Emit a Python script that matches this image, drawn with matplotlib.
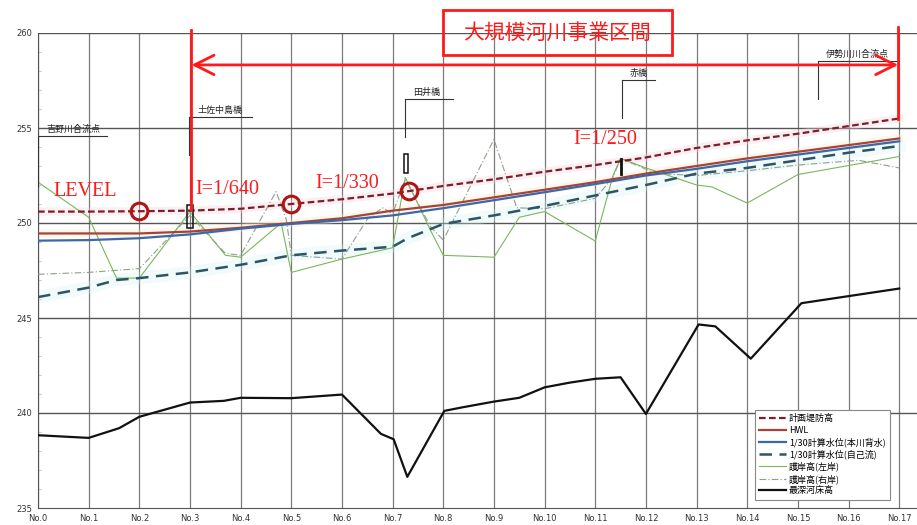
import matplotlib
matplotlib.use("Agg")
import matplotlib.pyplot as plt
import numpy as np
from matplotlib.patches import Rectangle

plt.rcParams["font.family"] = ["Noto Sans CJK JP", "DejaVu Sans"]

# station labels
stations = ["No.0", "No.1", "No.2", "No.3", "No.4", "No.5", "No.6", "No.7", "No.8",
            "No.9", "No.10", "No.11", "No.12", "No.13", "No.14", "No.15", "No.16", "No.17"]
station_x = list(range(len(stations)))

# 計画堤防高
dike = [250.6, 250.6, 250.62, 250.65, 250.75, 251.0, 251.25, 251.55, 251.95,
        252.3, 252.7, 253.05, 253.45, 253.95, 254.35, 254.7, 255.1, 255.5]
# HWL
hwl = [249.45, 249.45, 249.45, 249.55, 249.75, 250.0, 250.25, 250.65, 250.95,
       251.35, 251.75, 252.15, 252.6, 253.0, 253.4, 253.75, 254.1, 254.45]
# 1/30計算水位(本川背水)
wl_back = [249.07, 249.1, 249.2, 249.4, 249.7, 249.95, 250.15, 250.4, 250.78,
           251.2, 251.62, 252.05, 252.5, 252.85, 253.25, 253.6, 253.95, 254.3]
# 1/30計算水位(自己流)
wl_self_x = [0, 1, 1.55, 2, 3, 4, 5, 6, 7, 7.3, 8, 9, 10, 11, 12, 13, 14, 15, 16, 17]
wl_self = [246.1, 246.6, 247.0, 247.1, 247.4, 247.8, 248.3, 248.55, 248.75, 249.2,
           249.95, 250.4, 250.9, 251.45, 252.0, 252.6, 252.9, 253.3, 253.7, 254.05]
# 護岸高(左岸)
bank_l_x = [0, 1, 1.55, 2, 3, 3.7, 4, 4.8, 5, 6, 7, 7.25, 7.75, 8, 9, 9.5, 10,
            11, 11.35, 11.5, 12, 13, 13.3, 14, 15, 17]
bank_l = [252.15, 250.3, 247.1, 247.1, 250.6, 248.3, 248.2, 250.0, 247.4, 248.1,
          248.7, 252.4, 249.6, 248.3, 248.2, 250.3, 250.6, 249.05, 252.5, 253.4,
          252.9, 252.0, 251.9, 251.05, 252.55, 253.5]
# 護岸高(右岸)
bank_r_x = [0, 1, 2, 3, 3.7, 4, 4.7, 4.9, 5, 6, 6.5, 6.8, 7, 7.25, 7.75, 8, 9,
            9.45, 10, 11, 11.35, 11.5, 12.2, 13, 14, 15, 16.2, 17]
bank_r = [247.3, 247.4, 247.6, 250.4, 248.4, 248.3, 251.65, 250.2, 248.3, 248.1,
          250.2, 250.8, 250.5, 252.3, 249.8, 249.1, 254.4, 250.8, 250.75, 251.3,
          252.4, 253.4, 252.6, 252.5, 252.75, 253.05, 253.3, 252.9]
# 最深河床高
bed_x = [0, 1, 1.6, 2, 3, 3.67, 4, 5, 6, 6.77, 7.02, 7.29, 8.02, 8.36, 9, 9.5,
         10, 10.5, 11, 11.5, 12, 13.04, 13.37, 14.07, 15.07, 17]
bed = [238.83, 238.69, 239.2, 239.8, 240.55, 240.64, 240.8, 240.78, 240.97, 238.9,
       238.62, 236.64, 240.11, 240.29, 240.6, 240.8, 241.35, 241.6, 241.8, 241.88,
       239.95, 244.66, 244.56, 242.86, 245.78, 246.55]

# slope marks on the dike line
circle_x = [2, 5, 7.32]
slope_labels = ["LEVEL", "I=1/640", "I=1/330", "I=1/250"]

RED = "#ff1a1a"
DARKRED = "#b01515"

fig = plt.figure(figsize=(9.17, 5.25), dpi=100)
ax = fig.add_axes([38 / 917, 17 / 525, 879 / 917, 475 / 525])
ax.set_xlim(0, 879 / 50.66)
ax.set_ylim(235, 260)

# grid
for x in station_x:
    ax.axvline(x, color="#7a7a7a", lw=0.9, zorder=1)
for y in range(240, 261, 5):
    ax.axhline(y, color="#555555", lw=1.0, zorder=1)
for s in ["top", "right"]:
    ax.spines[s].set_visible(False)
ax.spines["left"].set_color("#555555")
ax.spines["bottom"].set_color("#555555")

ax.set_xticks(station_x)
ax.set_xticklabels(stations, fontsize=6, family="DejaVu Sans")
ax.set_yticks(range(235, 261, 5))
ax.set_yticklabels([str(v) for v in range(235, 261, 5)], fontsize=6, family="DejaVu Sans")
ax.tick_params(length=0, pad=4, colors="#333333")
ax.set_yticks(range(235, 261), minor=True)
ax.tick_params(which="minor", length=2, color="#bbbbbb", direction="in")

# faint halos
ax.plot(station_x, dike, color="#f7d3da", lw=6, alpha=0.35, zorder=2)
ax.plot(station_x, hwl, color="#fbe6c4", lw=6, alpha=0.35, zorder=2)
ax.plot(wl_self_x, wl_self, color="#d2f3f3", lw=9, alpha=0.3, zorder=2)

# series
ax.plot(station_x, dike, color="#7a1f2b", lw=1.6, ls=(0, (3, 1.5)), zorder=5, label="計画堤防高")
ax.plot(station_x, hwl, color="#a3443c", lw=1.6, zorder=5, label="HWL")
ax.plot(station_x, wl_back, color="#3a68a8", lw=1.6, zorder=5, label="1/30計算水位(本川背水)")
ax.plot(wl_self_x, wl_self, color="#2e5563", lw=1.8, ls=(0, (5, 3)), zorder=5, label="1/30計算水位(自己流)")
ax.plot(bank_l_x, bank_l, color="#78b85c", lw=0.8, zorder=4, label="護岸高(左岸)")
ax.plot(bank_r_x, bank_r, color="#8ea08a", lw=0.8, ls=(0, (6, 2, 1, 2)), zorder=4, label="護岸高(右岸)")
ax.plot(bed_x, bed, color="#111111", lw=1.6, zorder=5, label="最深河床高")

# circles on the dike line
ax.plot(circle_x, np.interp(circle_x, station_x, dike), "o", ms=12, mfc="none",
        mec=DARKRED, mew=2.2, zorder=7, clip_on=False)

# slope labels
tfont = dict(family="Liberation Serif", fontsize=14.5, color=RED, va="center", zorder=8)
ax.text(0.3, 251.65, slope_labels[0], **tfont)
ax.text(3.1, 251.74, slope_labels[1], **tfont)
ax.text(5.47, 252.1, slope_labels[2], **tfont)
ax.text(10.56, 254.42, slope_labels[3], **tfont)

# project section box and arrow
ax.add_patch(Rectangle((7.99, 258.84), 4.52, 2.37, fill=False, ec=RED, lw=2,
                       clip_on=False, zorder=9))
ax.text(10.25, 260.03, "大規模河川事業区間", color=RED, fontsize=15,
        ha="center", va="center", clip_on=False, zorder=9)
ax.annotate("", xy=(3.03, 258.32), xytext=(16.98, 258.32),
            arrowprops=dict(arrowstyle="<->,head_length=1.0,head_width=0.5",
                            color=RED, lw=2, mutation_scale=14, shrinkA=0, shrinkB=0),
            zorder=9)
ax.plot([3.03, 3.03], [260.15, 250.7], color=RED, lw=2, zorder=9, clip_on=False)
ax.plot([16.98, 16.98], [260.3, 255.5], color=RED, lw=2, zorder=9, clip_on=False)


# station notes
def note(x, x_end, y, y_end, text):
    ax.plot([x, x_end], [y, y], color="#333333", lw=0.8, zorder=6)
    ax.plot([x, x], [y, y_end], color="#333333", lw=0.8, zorder=6)
    ax.text(x + 0.16, y + 0.1, text, fontsize=6.5, color="#222222", va="bottom", zorder=6)


note(0.0, 1.36, 254.58, 251.9, "吉野川合流点")
note(2.98, 4.22, 255.56, 253.58, "土佐中島橋")
note(7.24, 8.19, 256.53, 254.53, "田井橋")
note(11.53, 12.18, 257.53, 255.53, "赤橋")
note(15.4, 16.96, 258.53, 256.53, "伊勢川川合流点")

# bridge piers
ax.add_patch(Rectangle((2.95, 249.75), 0.1, 1.2, fill=False, ec="#111111", lw=1.1, zorder=6))
ax.add_patch(Rectangle((7.23, 252.65), 0.08, 1.0, fill=False, ec="#111111", lw=1.1, zorder=6))
ax.plot([11.5, 11.5], [252.58, 253.37], color="#111111", lw=2, zorder=6)

leg = ax.legend(loc="upper left", bbox_to_anchor=(750 / 917, 1 - 405 / 525),
                bbox_transform=fig.transFigure, fontsize=6.5, handlelength=3.0,
                labelspacing=0.28, borderpad=0.5, handletextpad=0.3,
                fancybox=False, edgecolor="#888888", framealpha=1)
leg.get_frame().set_linewidth(0.8)
leg.set_zorder(10)

fig.savefig("out.png", dpi=100)
